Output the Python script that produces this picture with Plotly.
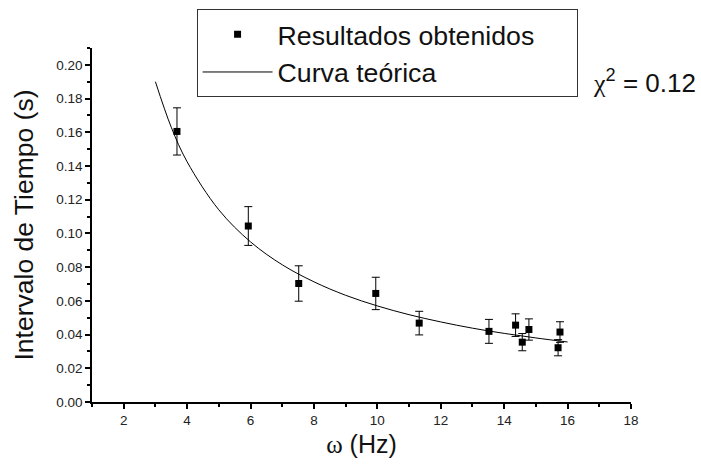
import plotly.graph_objects as go

# ---- data ----
omega = [3.68, 5.93, 7.52, 9.95, 11.32, 13.52, 14.36, 14.57, 14.78, 15.70, 15.76]
interval = [0.1605, 0.1044, 0.0703, 0.0644, 0.0468, 0.0419, 0.0456, 0.0355, 0.0430, 0.0322, 0.0415]
interval_err = [0.0140, 0.0115, 0.0105, 0.0096, 0.0070, 0.0071, 0.0067, 0.0051, 0.0063, 0.0048, 0.0061]

curve_omega = [3.0, 3.5, 4.0, 5.0, 6.0, 7.0, 8.0, 9.0, 10.0, 11.0, 12.0, 13.0, 14.0, 15.0, 16.0]
curve_interval = [0.190, 0.163, 0.1425, 0.114, 0.095, 0.0814, 0.0713, 0.0633, 0.0570,
                  0.0518, 0.0475, 0.0438, 0.0407, 0.0380, 0.0356]

x_ticks = [2, 4, 6, 8, 10, 12, 14, 16, 18]
y_ticks = [0.00, 0.02, 0.04, 0.06, 0.08, 0.10, 0.12, 0.14, 0.16, 0.18, 0.20]

series_names = ["Resultados obtenidos", "Curva teórica"]

FONT = "Liberation Sans, Arial, sans-serif"
SERIF = "Liberation Serif, Times New Roman, serif"
chi2_label = f"<span style='font-family:{SERIF}'>χ</span><sup>2</sup> = 0.12"
PAD = "\u00a0" * 5  # blank room at the right of the legend box

fig = go.Figure()

fig.add_trace(go.Scatter(
    x=omega, y=interval, mode="markers", name=series_names[0] + PAD,
    marker=dict(symbol="square", size=7, color="black"),
    error_y=dict(type="data", array=interval_err, visible=True,
                 color="black", thickness=1, width=4),
))

fig.add_trace(go.Scatter(
    x=curve_omega, y=curve_interval, mode="lines", name=series_names[1],
    line=dict(color="black", width=1, shape="spline"),
))

axis_common = dict(
    showline=True, linecolor="black", linewidth=1.5, mirror=False,
    ticks="outside", ticklen=5, tickwidth=1.5, tickcolor="black",
    showgrid=False, zeroline=False, automargin=False,
    tickfont=dict(family=FONT, size=13.5, color="#222"),
)

fig.update_xaxes(
    range=[1, 18], tickvals=x_ticks, ticktext=[str(v) for v in x_ticks],
    minor=dict(dtick=1, tick0=0, ticks="outside", ticklen=3, tickwidth=1.5, tickcolor="black"),
    title=dict(text=f"<span style='font-family:{SERIF}'>ω</span> (Hz)",
               font=dict(family=FONT, size=25, color="#111"), standoff=9),
    **axis_common,
)
fig.update_yaxes(
    range=[0, 0.21], tickvals=y_ticks, ticktext=[f"{v:.2f}" for v in y_ticks],
    minor=dict(dtick=0.01, tick0=0, ticks="outside", ticklen=3, tickwidth=1.5, tickcolor="black"),
    title=dict(text="Intervalo de Tiempo (s)",
               font=dict(family=FONT, size=26.5, color="#111"), standoff=15),
    **axis_common,
)

fig.add_annotation(
    text=chi2_label, xref="paper", yref="paper", x=0.925, y=0.853,
    xanchor="left", yanchor="bottom", showarrow=False,
    font=dict(family=FONT, size=26, color="#111"),
)

fig.update_layout(
    width=701, height=468,
    margin=dict(l=92, r=70, t=48, b=66, autoexpand=False),
    paper_bgcolor="white", plot_bgcolor="white",
    showlegend=True,
    legend=dict(
        x=0.194, y=1.109, xanchor="left", yanchor="top",
        bgcolor="white", bordercolor="#333", borderwidth=1,
        font=dict(family=FONT, size=26.7, color="#111"),
        itemwidth=70, tracegroupgap=0,
    ),
    font=dict(family=FONT),
)

fig.write_html("out.html", config={"displayModeBar": False},
               post_script="document.body.style.margin='0';")
